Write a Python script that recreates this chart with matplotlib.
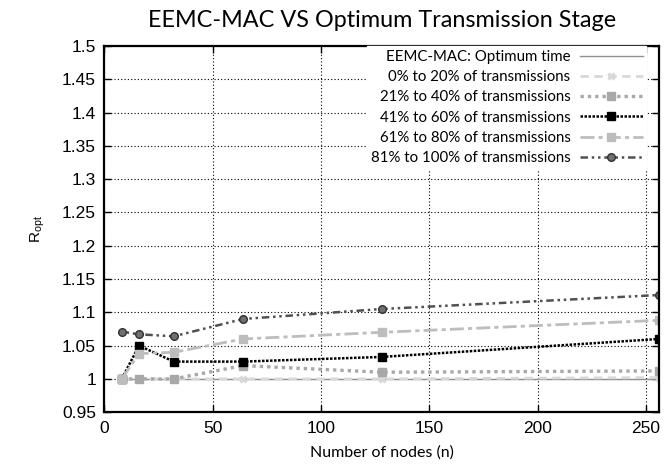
import matplotlib
matplotlib.use('Agg')
import matplotlib.pyplot as plt

# Data
nodes = [8, 16, 32, 64, 128, 256]
optimum = [1.0, 1.0, 1.0, 1.0, 1.0, 1.0]
p0_20 = [1.0, 1.0, 1.0, 1.0, 1.0, 1.002]
p21_40 = [1.0, 1.0, 1.0, 1.02, 1.01, 1.012]
p41_60 = [1.0, 1.05, 1.026, 1.026, 1.033, 1.06]
p61_80 = [1.0, 1.038, 1.04, 1.06, 1.07, 1.088]
p81_100 = [1.071, 1.067, 1.064, 1.09, 1.105, 1.126]

labels = ['EEMC-MAC: Optimum time',
          '0% to 20% of transmissions',
          '21% to 40% of transmissions',
          '41% to 60% of transmissions',
          '61% to 80% of transmissions',
          '81% to 100% of transmissions']

xticks = [0, 50, 100, 150, 200, 250]
yticks = [0.95, 1.0, 1.05, 1.1, 1.15, 1.2, 1.25, 1.3, 1.35, 1.4, 1.45, 1.5]
yticklabels = ['0.95', '1', '1.05', '1.1', '1.15', '1.2', '1.25', '1.3',
               '1.35', '1.4', '1.45', '1.5']

plt.rcParams['font.family'] = ['Liberation Sans', 'DejaVu Sans']

fig = plt.figure(figsize=(6.65, 4.7), dpi=100)
ax = fig.add_axes([0.157, 0.123, 0.834, 0.779])

ax.plot(nodes, optimum, color='#909090', lw=1.0, label=labels[0])
ax.plot(nodes, p0_20, color='#d8d8d8', lw=2.0, ls=(0, (3, 2)), marker='x',
        ms=5, mew=2.2, label=labels[1])
ax.plot(nodes, p21_40, color='#a8a8a8', lw=2.4, ls=(0, (1, 1.2)), marker='s',
        ms=5.5, label=labels[2])
ax.plot(nodes, p41_60, color='black', lw=1.8, ls=(0, (1, 0.6)), marker='s',
        ms=5.5, mfc='black', mec='black', label=labels[3])
ax.plot(nodes, p61_80, color='#bdbdbd', lw=2.0, ls=(0, (5, 1.5, 1.5, 1.5)),
        marker='s', ms=5.5, label=labels[4])
ax.plot(nodes, p81_100, color='#505050', lw=1.8,
        ls=(0, (3, 1.5, 1, 1.5, 1, 1.5)), marker='o', ms=5.5, mfc='#707070',
        mec='#303030', label=labels[5])

ax.set_xlim(0, 256)
ax.set_ylim(0.95, 1.5)
ax.set_xticks(xticks)
ax.set_yticks(yticks)
ax.set_yticklabels(yticklabels)
ax.tick_params(direction='in', top=True, right=True, length=5, width=1,
               labelsize=12.5, pad=6)
ax.grid(True, color='black', ls=(0, (1, 2)), lw=0.8)
for s in ax.spines.values():
    s.set_linewidth(1.6)

ax.set_title('EEMC-MAC VS Optimum Transmission Stage', fontsize=16.8,
             family=['Lato', 'DejaVu Sans'], pad=14)
ax.set_xlabel('Number of nodes (n)', fontsize=11.5, family=['Lato', 'DejaVu Sans'],
              labelpad=7)
ax.set_ylabel(r'R$_{\mathregular{opt}}$', fontsize=11, labelpad=11)

leg = ax.legend(loc='upper right', bbox_to_anchor=(0.977, 1.0),
                markerfirst=False, frameon=True,
                framealpha=1.0, edgecolor='white', fancybox=False,
                prop={'family': ['Lato', 'DejaVu Sans'], 'size': 10.8},
                handlelength=4.2, labelspacing=0.42, borderaxespad=0.0,
                borderpad=0.25, handletextpad=0.6)

plt.savefig('out.png', dpi=100)
